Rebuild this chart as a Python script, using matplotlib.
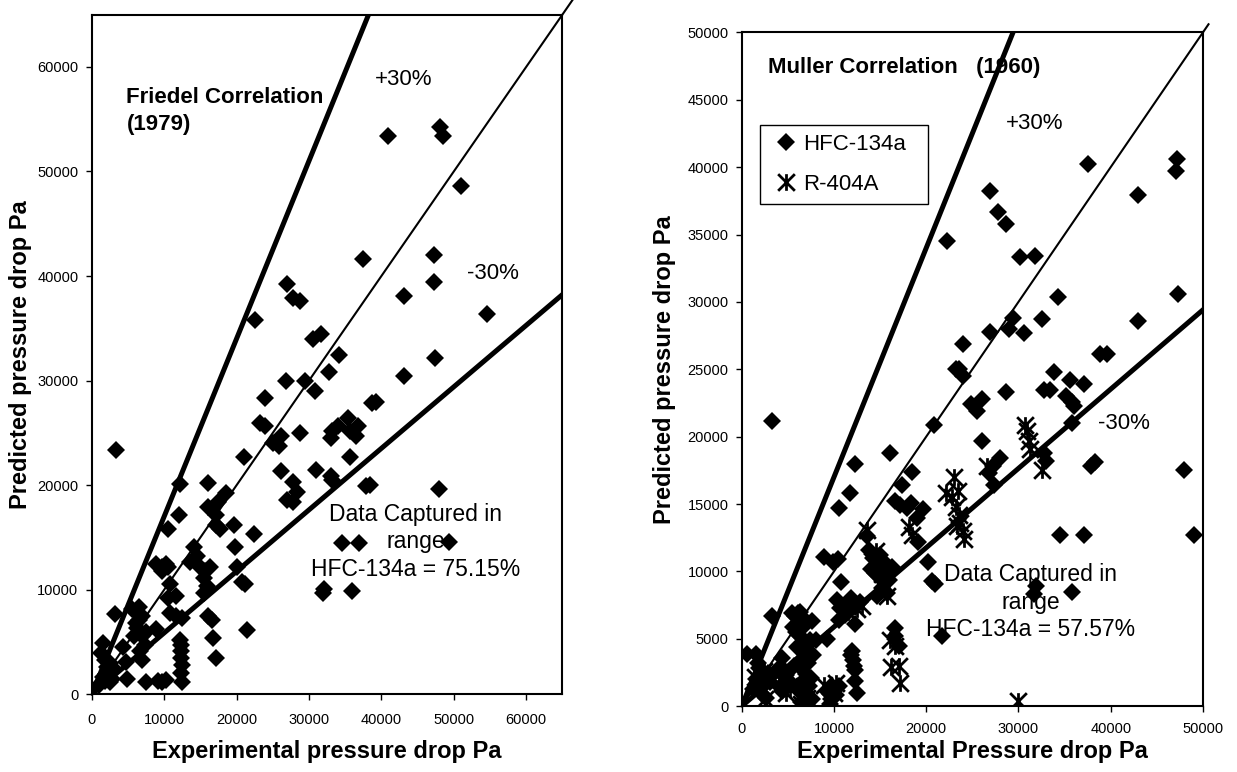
import numpy as np
import matplotlib.pyplot as plt
from matplotlib.path import Path
from matplotlib.lines import Line2D

plt.rcParams['font.family'] = ['Liberation Sans', 'DejaVu Sans']

# Friedel correlation (1979), HFC-134a : experimental vs predicted pressure drop (Pa)
friedel_x = [40900, 48100, 48500, 51000, 37500, 47300, 47300, 43100, 54600, 47400, 43100, 39200, 38700,
             26900, 27800, 28800, 22600, 30500, 31700, 34200, 32800, 26800, 29400, 30800, 24000, 23300,
             23900, 26100, 25000, 25800, 28800, 34000, 33200, 35400, 35700, 36500, 36800, 33000, 35700,
             26100, 31000, 33000, 33200, 27800, 26900, 27800, 28300, 37900, 38400, 47900, 21100, 22400,
             3300, 12200, 16000, 18500, 17400, 16000, 17100, 17700, 17100, 19600, 19800, 12000, 10600,
             14100, 14500, 14900, 13600, 15700, 16300, 15500, 15900, 15500, 20100, 20700, 21200, 8900,
             9700, 10300, 10600, 9700, 10800, 11600, 10600, 10800, 11600, 12500, 16000, 16600, 16800,
             17100, 21500, 32100, 31900, 35900, 34500, 36900, 49300,
             12200, 12300, 12400, 12300, 12500, 12400, 12500,
             7500, 9700, 10200, 4900, 9200,
             3200, 5600, 6200, 6500, 6300, 5900, 7000, 7300, 7000, 8900, 4300, 4800, 1600, 1300, 1800,
             2100, 2300, 2600, 1600, 1000, 2000, 3000, 2500, 6600, 6900, 6100, 7500, 6700, 2800, 1900]
friedel_y = [53400, 54200, 53400, 48600, 41600, 42000, 39400, 38100, 36400, 32200, 30400, 28000, 27900,
             39200, 37900, 37600, 35800, 34000, 34500, 32500, 30800, 30000, 30000, 29000, 28300, 26000,
             25700, 24700, 24000, 23800, 25000, 25700, 25200, 26400, 25200, 24700, 25700, 24500, 22700,
             21400, 21500, 20900, 20500, 20300, 18600, 18400, 19400, 19900, 20000, 19600, 22700, 15300,
             23400, 20100, 20200, 19300, 18400, 17900, 17200, 15800, 16200, 16200, 14100, 17200, 15800,
             14100, 13200, 12200, 12700, 11800, 12200, 11100, 10400, 9700, 12200, 10800, 10600, 12500,
             12200, 12500, 12200, 11800, 10600, 9400, 9200, 7800, 7500, 7300, 7500, 7100, 5400,
             3500, 6200, 10100, 9700, 9900, 14500, 14500, 14600,
             5200, 4700, 4200, 3500, 2800, 2100, 1200,
             1200, 1200, 1400, 1500, 1300,
             7700, 8200, 7800, 7100, 6400, 5600, 5600, 4700, 3300, 6300, 4500, 3100, 4900, 4000, 3300,
             2600, 1900, 1200, 1700, 900, 2000, 2500, 3000, 8400, 7500, 6800, 6000, 4200, 1500, 1300]

# Muller correlation (1960), HFC-134a
muller_hfc_x = [3300, 22300, 26900, 27800, 28700, 30200, 31800, 37500, 43000, 47200, 47100, 47300, 43000,
                34300, 32600, 29400, 29000, 30600, 26900, 24000, 23200, 23600, 24000, 38800, 39600, 33900,
                35600, 37100, 32800, 33400, 28700, 35100, 35800, 36000, 24900, 25500, 26000, 20800, 26000,
                35800, 37900, 38300, 47900, 49000, 34500, 37100, 35800, 31900, 31700, 16100, 12300, 11700,
                10500, 17400, 18500, 16600, 17200, 17900, 18300, 19600, 19000, 19100, 20200, 20600, 21000,
                21700, 26800, 27400, 28000, 27200, 32800, 33000, 8900, 9900, 10400, 10800, 8000, 11900,
                12300, 12000, 12100, 12300, 12300, 12500, 11800, 12200, 3300, 600, 1600, 1800, 4400, 4600,
                4200, 5500, 6300, 7600, 9700, 9700, 13600, 16600, 16600, 17100,
                5800, 6100, 6500, 6900, 6300, 6700, 6000, 6900, 6500, 7200, 6300, 7000, 6600, 7300, 6800,
                7100, 6400, 7500, 5900, 7400, 5700, 6200, 7700, 5600, 7600, 6100,
                13800, 14200, 14600, 15000, 15400, 14400, 15000, 15600, 16000, 15200, 15800, 14700, 16300,
                14000, 10300, 10700, 11200, 11600, 12800, 10500, 9200,
                1900, 2200, 2400, 1500, 2800, 2100, 2600, 1200, 3100, 4000, 4800, 5200, 4400,
                9200, 10200, 9600, 10500]
muller_hfc_y = [21200, 34500, 38200, 36700, 35800, 33300, 33400, 40200, 37900, 40600, 39700, 30600, 28600,
                30400, 28700, 28800, 28000, 27700, 27800, 26900, 25000, 25000, 24500, 26100, 26100, 24800,
                24200, 23900, 23500, 23500, 23300, 23000, 22600, 22300, 22400, 21900, 22800, 20900, 19700,
                21000, 17800, 18100, 17500, 12700, 12700, 12700, 8500, 8900, 8300, 18800, 18000, 15800,
                14700, 16400, 17400, 15200, 14900, 14700, 15100, 14600, 14000, 12200, 10700, 9300, 9100,
                5200, 17300, 16400, 18400, 17800, 18800, 18200, 11100, 10700, 10900, 9200, 4900, 8000,
                6100, 4100, 3400, 2700, 1900, 1000, 3800, 3000, 6700, 3900, 3900, 3200, 3600, 2700,
                1400, 6900, 7000, 500, 1400, 500, 12600, 5800, 5200, 4500,
                6700, 6200, 5800, 6400, 5200, 4700, 4400, 4000, 3500, 3200, 2900, 2400, 1900, 1500, 1000,
                600, 300, 2100, 5500, 4900, 3000, 1200, 3800, 5900, 6300, 6900,
                11600, 11000, 10500, 11200, 10700, 9900, 9600, 10000, 9400, 8800, 8400, 8200, 10300,
                10200, 7900, 7300, 6800, 7600, 7700, 6400, 5000,
                2800, 2200, 1600, 2000, 2500, 1000, 600, 1300, 1800, 2800, 2300, 1800, 1100,
                1100, 800, 200, 1500]

# Muller correlation (1960), R-404A
muller_r404_x = [30000, 17200, 17100, 16100, 18500, 18100, 13600, 13000, 12500, 10200, 8900, 4800, 2500,
                 23000, 22100, 22800, 23200, 23500, 23700, 24000, 24100, 23400, 26600, 30700, 30900, 31100,
                 31300, 32600, 16200, 16600, 14600, 15200, 15800, 14100, 7100, 6400, 6800, 9600, 10000,
                 2000, 2400, 1400, 4200, 5200, 11500, 15000, 23300]
muller_r404_y = [400, 1700, 3000, 4900, 12700, 13300, 13100, 7400, 7200, 1700, 1600, 1000, 500,
                 17000, 15800, 15500, 14800, 14200, 13600, 13000, 12400, 16000, 17800, 20900, 20400, 19700,
                 19100, 17500, 2900, 4500, 11500, 9800, 8200, 10800, 600, 200, 1500, 400, 1000,
                 1500, 2600, 2200, 2000, 1300, 7000, 9000, 13400]

band_hi = 1.7
band_lo = 1 / 1.7

star = Path([(0, -1), (0, 1), (-1, -1), (1, 1), (-1, 1), (1, -1)],
            [Path.MOVETO, Path.LINETO] * 3)

fig = plt.figure(figsize=(12.37, 7.72), dpi=100)
ax1 = fig.add_axes([0.0741, 0.1004, 0.3806, 0.8808])
ax2 = fig.add_axes([0.5996, 0.0852, 0.3729, 0.8729])


def guide_lines(ax, lim, ext):
    r = np.array([0, lim])
    ax.plot(r * ext, r * ext, color='black', lw=1.5, clip_on=False, zorder=2)
    ax.plot(r, r * band_hi, color='black', lw=3.6, zorder=2)
    ax.plot(r, r * band_lo, color='black', lw=3.6, zorder=2)


def style(ax, lim, ystep, xpad):
    ax.set_xlim(0, lim)
    ax.set_ylim(0, lim)
    ax.set_xticks(np.arange(0, lim + 1, 10000))
    ax.set_yticks(np.arange(0, lim + 1, ystep))
    ax.tick_params(axis='both', direction='out', length=4.5, width=1, labelsize=10.5)
    ax.tick_params(axis='x', pad=xpad)
    ax.tick_params(axis='y', pad=5)
    for s in ax.spines.values():
        s.set_linewidth(1.5)


# left panel
guide_lines(ax1, 65000, 1.022)
ax1.plot(friedel_x, friedel_y, linestyle='none', marker='D', ms=9, mew=0,
         color='black', zorder=3)
style(ax1, 65000, 10000, 9)
ax1.set_xticks(np.arange(0, 60001, 10000))
ax1.set_yticks(np.arange(0, 60001, 10000))
ax1.set_xlabel('Experimental pressure drop Pa', fontsize=17, fontweight='bold', labelpad=9)
ax1.set_ylabel('Predicted pressure drop Pa', fontsize=17, fontweight='bold', labelpad=4)
ax1.text(4800, 55800, 'Friedel Correlation\n(1979)', fontsize=16, fontweight='bold',
         ha='left', va='center', linespacing=1.4)
ax1.text(43100, 58800, '+30%', fontsize=16, ha='center', va='center')
ax1.text(55400, 40200, '-30%', fontsize=16, ha='center', va='center')
ax1.text(44700, 14600, 'Data Captured in\nrange\nHFC-134a = 75.15%', fontsize=16.5,
         ha='center', va='center', linespacing=1.25)

# right panel
guide_lines(ax2, 50000, 1.012)
ax2.plot(muller_hfc_x, muller_hfc_y, linestyle='none', marker='D', ms=9, mew=0,
         color='black', zorder=3)
ax2.plot(muller_r404_x, muller_r404_y, linestyle='none', marker=star, ms=12, mew=2,
         color='black', zorder=3)
style(ax2, 50000, 5000, 6.5)
ax2.set_xlabel('Experimental Pressure drop Pa', fontsize=17, fontweight='bold', labelpad=3)
ax2.set_ylabel('Predicted pressure drop Pa', fontsize=17, fontweight='bold', labelpad=8)
ax2.text(2800, 47400, 'Muller Correlation   (1960)', fontsize=16, fontweight='bold',
         ha='left', va='center')
ax2.text(31800, 43200, '+30%', fontsize=16, ha='center', va='center')
ax2.text(41400, 21000, '-30%', fontsize=16, ha='center', va='center')
ax2.text(31300, 7700, 'Data Captured in\nrange\nHFC-134a = 57.57%', fontsize=16.5,
         ha='center', va='center', linespacing=1.25)

handles = [Line2D([], [], linestyle='none', marker='D', ms=9, mew=0, color='black'),
           Line2D([], [], linestyle='none', marker=star, ms=12, mew=2, color='black')]
leg = ax2.legend(handles, ['HFC-134a', 'R-404A'], loc='upper left',
                 bbox_to_anchor=(0.039, 0.745, 0.364, 0.118), mode='expand',
                 borderaxespad=0, fontsize=16, frameon=True, fancybox=False, framealpha=1,
                 edgecolor='black', handlelength=1.55, handletextpad=0.0, borderpad=0.42,
                 labelspacing=0.86)
leg.get_frame().set_linewidth(1)

fig.savefig('out.png', dpi=100)
